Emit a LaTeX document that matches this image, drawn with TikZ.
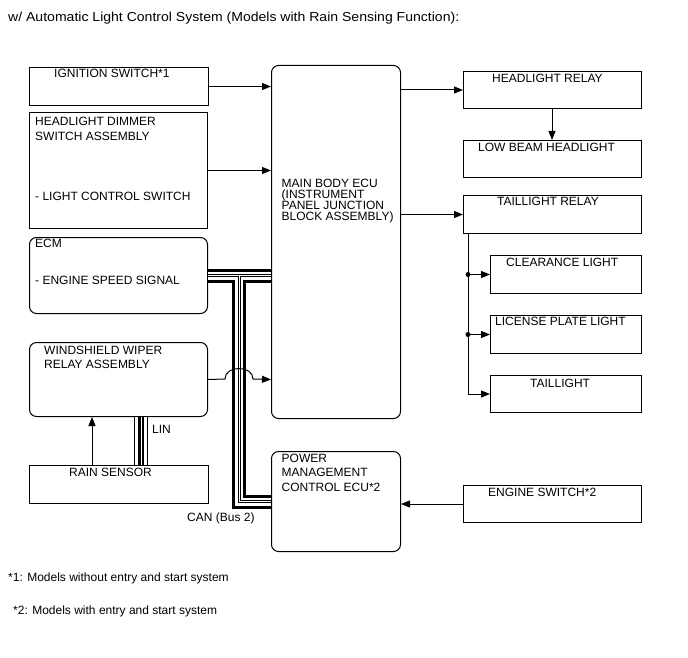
\documentclass[tikz,border=0pt]{standalone}
\usepackage{graphicx}
\usepackage{fontspec}
\setmainfont{Liberation Sans}
\usetikzlibrary{arrows.meta,calc}
\begin{document}
\begin{tikzpicture}[x=1pt,y=-1pt,
  box/.style={draw,line width=1pt,anchor=north west,inner sep=0pt},
  rbox/.style={box,rounded corners=7pt},
  txt/.style={anchor=base west,inner sep=0pt,align=left,font=\fontsize{12}{11}\selectfont},
  wire/.style={line width=1pt},
  arr/.style={wire,-{Triangle[length=9pt,width=7pt]}},
  dot/.style={circle,fill=black,inner sep=0pt,minimum size=5pt}]
\useasboundingbox (0,0) rectangle (688,658);

% title
\node[txt,font=\fontsize{13}{14}\selectfont] (title) at (8,22) {\scalebox{1.08}[1]{w/ Automatic Light Control System (Models with Rain Sensing Function):}};

% left boxes
\node[box,minimum width=179pt,minimum height=38pt] (ign) at (29,67) {};
\node[txt] (tign) at (54,78) {IGNITION SWITCH*1};
\node[box,minimum width=178pt,minimum height=116pt] (dim) at (29,112) {};
\node[txt,font=\fontsize{12}{15}\selectfont] (tdim) at (35,140.5) {HEADLIGHT DIMMER\\SWITCH ASSEMBLY};
\node[txt] (tdim2) at (35,200) {- LIGHT CONTROL SWITCH};
\node[rbox,minimum width=178pt,minimum height=76pt] (ecm) at (29,237) {};
\node[txt] (tecm) at (35,247.5) {ECM};
\node[txt] (tecm2) at (35,284) {- ENGINE SPEED SIGNAL};
\node[rbox,minimum width=178pt,minimum height=74pt] (wip) at (29,342) {};
\node[txt,font=\fontsize{12}{14}\selectfont] (twip) at (44,368.5) {WINDSHIELD WIPER\\RELAY ASSEMBLY};
\node[box,minimum width=179pt,minimum height=38pt] (rain) at (29,465) {};
\node[txt] (train) at (69,476.5) {RAIN SENSOR};

% middle boxes
\node[rbox,minimum width=129pt,minimum height=353pt] (main) at (271,65) {};
\node[txt,font=\fontsize{12}{10.8}\selectfont] (tmain) at (281.5,220.7) {MAIN BODY ECU\\(INSTRUMENT\\PANEL JUNCTION\\BLOCK ASSEMBLY)};
\node[rbox,minimum width=129pt,minimum height=100pt] (pm) at (271,451) {};
\node[txt,font=\fontsize{12}{14.3}\selectfont] (tpm) at (281.5,491.1) {POWER\\MANAGEMENT\\CONTROL ECU*2};

% right boxes
\node[box,minimum width=178pt,minimum height=37pt] (hr) at (463,71) {};
\node[txt] (thr) at (492,83) {HEADLIGHT RELAY};
\node[box,minimum width=178pt,minimum height=37pt] (lb) at (463,140) {};
\node[txt] (tlb) at (478,151) {LOW BEAM HEADLIGHT};
\node[box,minimum width=178pt,minimum height=38pt] (tr) at (463,195) {};
\node[txt] (ttr) at (497,205.5) {TAILLIGHT RELAY};
\node[box,minimum width=151pt,minimum height=38pt] (cl) at (490,255) {};
\node[txt] (tcl) at (506,266.5) {CLEARANCE LIGHT};
\node[box,minimum width=151pt,minimum height=38pt] (lp) at (490,315) {};
\node[txt] (tlp) at (495,325.5) {LICENSE PLATE LIGHT};
\node[box,minimum width=151pt,minimum height=37pt] (tl) at (490,375) {};
\node[txt] (ttl) at (530,387.5) {TAILLIGHT};
\node[box,minimum width=178pt,minimum height=37pt] (es) at (463,485) {};
\node[txt] (tes) at (488,496.5) {ENGINE SWITCH*2};

% CAN bus
\coordinate (j) at (239,275);
\foreach \w/\c in {14/black,8/white,3/black,1/white}{
  \draw[line width=\w pt,\c] (ecm.east) -- (ecm.east -| main.west) (j) |- (pm.west);
}
\node[txt] (tcan) at (187,521.5) {CAN (Bus 2)};

% LIN
\foreach \w/\c in {14/black,11.5/white,6/black,1/white}{
  \draw[line width=\w pt,\c] (141,0 |- wip.south) -- (141,0 |- rain.north);
}
\node[txt] (tlin) at (152,433.5) {LIN};

% signal arrows
\draw[arr] (ign.east) -- (ign.east -| main.west);
\draw[arr] (dim.east) -- (dim.east -| main.west);
\coordinate (ja) at (225,379);
\coordinate (jb) at (253,379);
\draw[arr] (wip.east) -- (ja) .. controls (225,365) and (253,365) .. (jb) -- (wip.east -| main.west);
\draw[arr] (92,0 |- rain.north) -- (92,0 |- wip.south);
\draw[arr] (main.east |- hr.west) -- (hr.west);
\draw[arr] (552,0 |- hr.south) -- (552,0 |- lb.north);
\draw[arr] (main.east |- tr.west) -- (tr.west);
\draw[arr] (es.west) -- (es.west -| pm.east);

% taillight distribution
\coordinate (tb) at ($(tr.south west)+(5,0)$);
\draw[arr] (tb) |- (tl.west);
\draw[arr] (tb |- cl.west) -- (cl.west);
\draw[arr] (tb |- lp.west) -- (lp.west);
\node[dot] (d1) at (tb |- cl.west) {};
\node[dot] (d2) at (tb |- lp.west) {};

% footnotes
\node[txt] (f1) at (8,581) {*1: Models without entry and start system};
\node[txt] (f2) at (13,614) {*2: Models with entry and start system};
\end{tikzpicture}
\end{document}
